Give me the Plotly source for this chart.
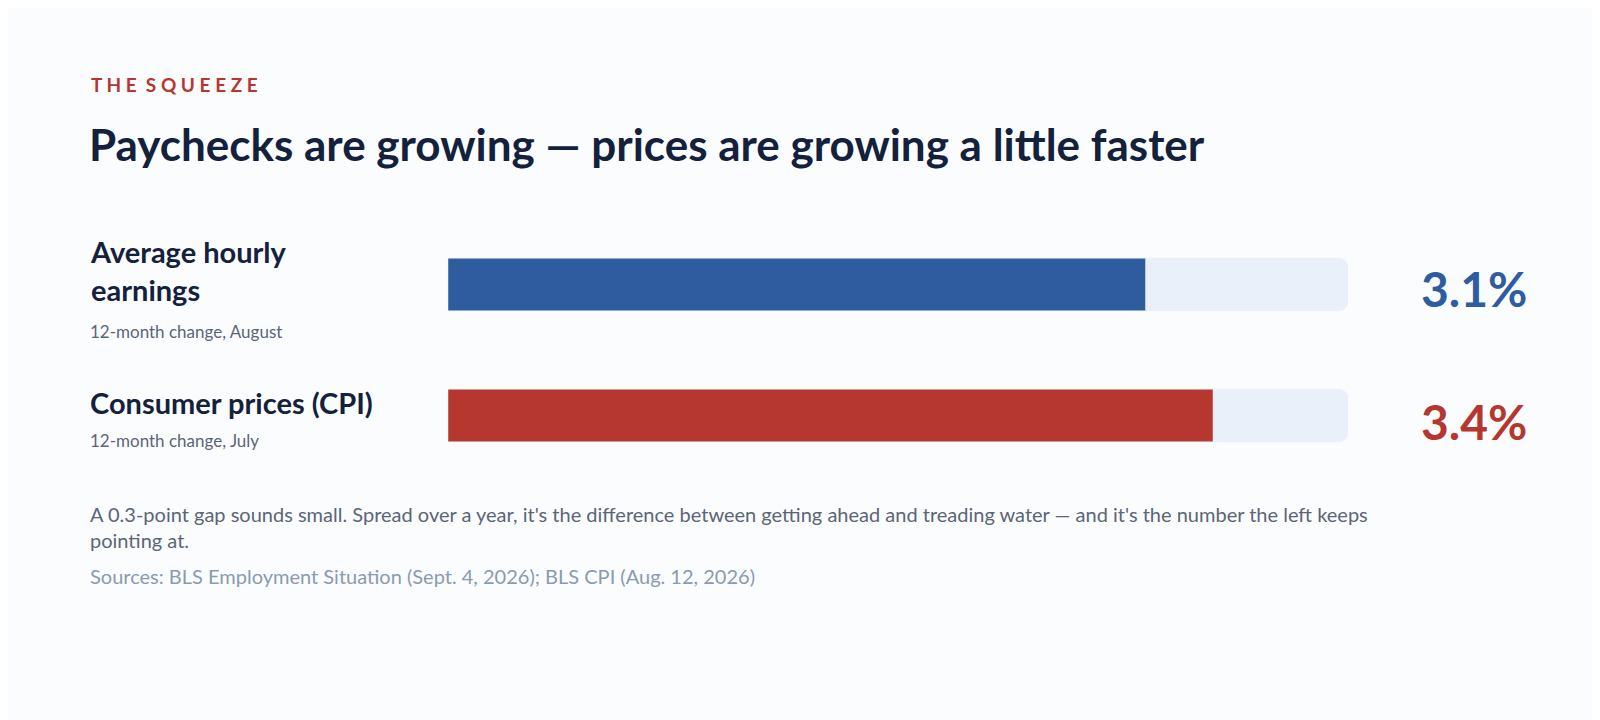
import plotly.graph_objects as go

categories = ["Average hourly earnings", "Consumer prices (CPI)"]
subtitles = ["12-month change, August", "12-month change, July"]
values = [3.1, 3.4]
value_labels = ["3.1%", "3.4%"]
track_max = 4.0

BLUE = "#2e5c9e"
RED = "#b5372f"
NAVY = "#14213d"
GREY = "#5b6577"
LIGHT = "#8a9ab0"
FONT = "Lato"

W, H = 1600, 720
def px(x): return x / W
def py(y): return 1 - y / H

fig = go.Figure()
ypos = list(range(len(categories)))
fig.add_trace(go.Bar(x=[track_max] * len(categories), y=ypos, orientation="h",
                     marker=dict(color="#e9f0f9", cornerradius=9),
                     width=0.4, hoverinfo="skip", showlegend=False))
for v, y, col in zip(values, ypos, [BLUE, RED]):
    fig.add_trace(go.Bar(x=[v], y=[y], orientation="h",
                         marker=dict(color=col, cornerradius=9),
                         width=0.4, showlegend=False))

ann = []
ann.append(dict(x=px(81), y=py(77), text="<b>T H E  S Q U E E Z E</b>",
                font=dict(size=19, color=RED), xanchor="left", yanchor="middle"))
ann.append(dict(x=px(79), y=py(136), text="<b>Paychecks are growing — prices are growing a little faster</b>",
                font=dict(size=44, color=NAVY), xanchor="left", yanchor="middle"))
ann.append(dict(x=px(80), y=py(224), text="<b>Average hourly<br>earnings</b>",
                font=dict(size=29, color=NAVY), xanchor="left", yanchor="top", align="left"))
ann.append(dict(x=px(80), y=py(324), text=subtitles[0],
                font=dict(size=17, color=GREY), xanchor="left", yanchor="middle"))
ann.append(dict(x=px(80), y=py(394), text="<b>" + categories[1] + "</b>",
                font=dict(size=29, color=NAVY), xanchor="left", yanchor="middle"))
ann.append(dict(x=px(80), y=py(432), text=subtitles[1],
                font=dict(size=17, color=GREY), xanchor="left", yanchor="middle"))
for lab, col, y in zip(value_labels, [BLUE, RED], [281, 413]):
    ann.append(dict(x=px(1521), y=py(y), text="<b>" + lab + "</b>",
                    font=dict(size=48, color=col), xanchor="right", yanchor="middle"))
ann.append(dict(x=px(80), y=py(492), yanchor="top", xanchor="left", align="left",
                text="A 0.3-point gap sounds small. Spread over a year, it's the difference between getting ahead and treading water — and it's the number the left keeps<br>pointing at.",
                font=dict(size=20, color=GREY)))
ann.append(dict(x=px(80), y=py(568), yanchor="middle", xanchor="left",
                text="Sources: BLS Employment Situation (Sept. 4, 2026); BLS CPI (Aug. 12, 2026)",
                font=dict(size=20, color=LIGHT)))
for a in ann:
    a.update(xref="paper", yref="paper", showarrow=False)

fig.update_layout(
    width=W, height=H, margin=dict(l=0, r=0, t=0, b=0),
    paper_bgcolor="#fbfcfe", plot_bgcolor="#fbfcfe",
    font=dict(family=FONT), barmode="overlay", annotations=ann,
    xaxis=dict(domain=[px(440), px(1340)], range=[0, track_max], visible=False, fixedrange=True),
    yaxis=dict(domain=[py(473), py(211)], range=[1.5, -0.5], visible=False, fixedrange=True),
)
fig.write_html("out.html")
